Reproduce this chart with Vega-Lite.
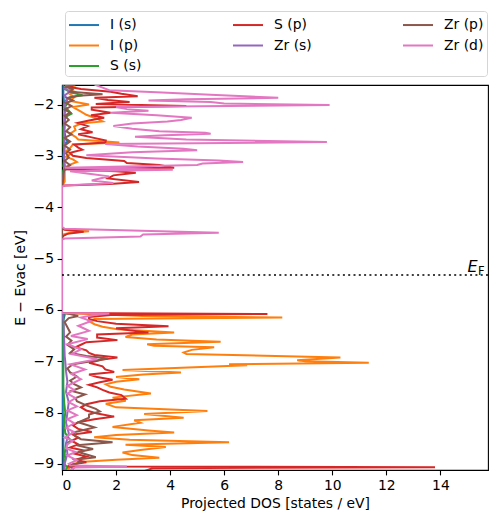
{
"$schema": "https://vega.github.io/schema/vega-lite/v6.json",
"width": 426, "height": 385,
"padding": {"left": 13, "top": 10, "right": 5, "bottom": 5},
"config": {
 "font": "DejaVu Sans",
 "view": {"stroke": "black", "strokeWidth": 1.1},
 "axis": {"labelFont": "DejaVu Sans", "titleFont": "DejaVu Sans", "labelFontSize": 13.9, "titleFontSize": 13.9, "titleFontWeight": "normal", "labelColor": "black", "titleColor": "black", "tickColor": "black", "domainColor": "black", "tickSize": 4.9, "tickWidth": 1.1, "domainWidth": 1.1, "grid": false, "labelPadding": 3.5, "zindex": 1},
 "legend": {"orient": "none", "direction": "horizontal", "legendX": 3, "legendY": -74, "columns": 3, "gridAlign": "each", "columnPadding": 87, "rowPadding": 2.5, "symbolType": "M-1,0H2", "symbolSize": 400, "symbolStrokeWidth": 2, "labelFont": "DejaVu Sans", "labelFontSize": 13.9, "labelOffset": 20, "labelColor": "black", "strokeColor": "#d5d5d5", "cornerRadius": 3, "padding": 3, "fillColor": "white"}
},
"datasets": {"pdos": [
{"s":"I (s)","E":-1.55,"d":0.05},{"s":"I (s)","E":-1.8,"d":0.05},{"s":"I (s)","E":-2.0,"d":0.08},{"s":"I (s)","E":-2.3,"d":0.1},{"s":"I (s)","E":-2.5,"d":0.08},{"s":"I (s)","E":-2.68,"d":0.15},{"s":"I (s)","E":-2.72,"d":0.22},{"s":"I (s)","E":-2.76,"d":0.1},{"s":"I (s)","E":-3.0,"d":0.05},{"s":"I (s)","E":-3.22,"d":0.1},{"s":"I (s)","E":-3.26,"d":0.15},{"s":"I (s)","E":-3.3,"d":0.05},{"s":"I (s)","E":-3.6,"d":0},{"s":"I (s)","E":-6.06,"d":0},{"s":"I (s)","E":-6.1,"d":0.1},{"s":"I (s)","E":-6.2,"d":0.05},{"s":"I (s)","E":-7.0,"d":0.03},{"s":"I (s)","E":-8.0,"d":0.03},{"s":"I (s)","E":-8.5,"d":0.05},{"s":"I (s)","E":-9.15,"d":0.05},

{"s":"I (p)","E":-1.55,"d":0.3},{"s":"I (p)","E":-1.62,"d":0.2},{"s":"I (p)","E":-1.66,"d":0.45},{"s":"I (p)","E":-1.71,"d":0.3},{"s":"I (p)","E":-1.76,"d":0.5},{"s":"I (p)","E":-1.8,"d":0.3},{"s":"I (p)","E":-1.86,"d":0.45},{"s":"I (p)","E":-1.93,"d":0.3},{"s":"I (p)","E":-2.0,"d":1.0},{"s":"I (p)","E":-2.05,"d":0.4},{"s":"I (p)","E":-2.12,"d":0.64},{"s":"I (p)","E":-2.2,"d":0.9},{"s":"I (p)","E":-2.28,"d":1.3},{"s":"I (p)","E":-2.33,"d":1.5},{"s":"I (p)","E":-2.37,"d":0.7},{"s":"I (p)","E":-2.43,"d":0.45},{"s":"I (p)","E":-2.5,"d":0.5},{"s":"I (p)","E":-2.57,"d":0.3},{"s":"I (p)","E":-2.63,"d":0.5},{"s":"I (p)","E":-2.68,"d":0.6},{"s":"I (p)","E":-2.74,"d":2.12},{"s":"I (p)","E":-2.78,"d":0.4},{"s":"I (p)","E":-2.85,"d":0.3},{"s":"I (p)","E":-2.91,"d":0.15},{"s":"I (p)","E":-2.96,"d":0.33},{"s":"I (p)","E":-3.02,"d":0.15},{"s":"I (p)","E":-3.07,"d":0.4},{"s":"I (p)","E":-3.12,"d":0.55},{"s":"I (p)","E":-3.17,"d":0.3},{"s":"I (p)","E":-3.22,"d":0.12},{"s":"I (p)","E":-3.28,"d":0.1},{"s":"I (p)","E":-3.4,"d":0.1},{"s":"I (p)","E":-3.5,"d":0.1},{"s":"I (p)","E":-3.6,"d":0},{"s":"I (p)","E":-4.42,"d":0},{"s":"I (p)","E":-4.44,"d":0.2},{"s":"I (p)","E":-4.47,"d":1.0},{"s":"I (p)","E":-4.5,"d":0.3},{"s":"I (p)","E":-4.54,"d":0},{"s":"I (p)","E":-6.06,"d":0},{"s":"I (p)","E":-6.08,"d":1.0},{"s":"I (p)","E":-6.12,"d":3.0},{"s":"I (p)","E":-6.15,"d":8.15},{"s":"I (p)","E":-6.18,"d":1.2},{"s":"I (p)","E":-6.22,"d":1.0},{"s":"I (p)","E":-6.28,"d":1.2},{"s":"I (p)","E":-6.33,"d":1.5},{"s":"I (p)","E":-6.38,"d":2.05},{"s":"I (p)","E":-6.44,"d":4.15},{"s":"I (p)","E":-6.48,"d":2.6},{"s":"I (p)","E":-6.53,"d":2.35},{"s":"I (p)","E":-6.58,"d":3.5},{"s":"I (p)","E":-6.62,"d":5.87},{"s":"I (p)","E":-6.67,"d":3.15},{"s":"I (p)","E":-6.7,"d":3.4},{"s":"I (p)","E":-6.73,"d":5.63},{"s":"I (p)","E":-6.78,"d":4.8},{"s":"I (p)","E":-6.83,"d":4.5},{"s":"I (p)","E":-6.86,"d":4.6},{"s":"I (p)","E":-6.93,"d":10.3},{"s":"I (p)","E":-6.98,"d":8.7},{"s":"I (p)","E":-7.0,"d":9.0},{"s":"I (p)","E":-7.03,"d":11.35},{"s":"I (p)","E":-7.06,"d":6.18},{"s":"I (p)","E":-7.08,"d":6.85},{"s":"I (p)","E":-7.17,"d":2.24},{"s":"I (p)","E":-7.22,"d":4.4},{"s":"I (p)","E":-7.26,"d":3.0},{"s":"I (p)","E":-7.31,"d":2.0},{"s":"I (p)","E":-7.35,"d":2.86},{"s":"I (p)","E":-7.4,"d":2.0},{"s":"I (p)","E":-7.45,"d":1.62},{"s":"I (p)","E":-7.5,"d":1.8},{"s":"I (p)","E":-7.55,"d":2.3},{"s":"I (p)","E":-7.63,"d":3.29},{"s":"I (p)","E":-7.71,"d":1.87},{"s":"I (p)","E":-7.77,"d":2.36},{"s":"I (p)","E":-7.83,"d":1.62},{"s":"I (p)","E":-7.9,"d":2.0},{"s":"I (p)","E":-7.97,"d":5.38},{"s":"I (p)","E":-8.03,"d":3.04},{"s":"I (p)","E":-8.1,"d":4.5},{"s":"I (p)","E":-8.15,"d":2.67},{"s":"I (p)","E":-8.2,"d":2.9},{"s":"I (p)","E":-8.28,"d":1.87},{"s":"I (p)","E":-8.35,"d":3.2},{"s":"I (p)","E":-8.39,"d":4.15},{"s":"I (p)","E":-8.44,"d":2.0},{"s":"I (p)","E":-8.48,"d":1.19},{"s":"I (p)","E":-8.53,"d":2.5},{"s":"I (p)","E":-8.58,"d":6.18},{"s":"I (p)","E":-8.63,"d":2.35},{"s":"I (p)","E":-8.67,"d":3.84},{"s":"I (p)","E":-8.73,"d":2.9},{"s":"I (p)","E":-8.78,"d":2.24},{"s":"I (p)","E":-8.83,"d":2.6},{"s":"I (p)","E":-8.88,"d":3.6},{"s":"I (p)","E":-8.92,"d":2.0},{"s":"I (p)","E":-8.96,"d":0.82},{"s":"I (p)","E":-9.0,"d":0.4},{"s":"I (p)","E":-9.05,"d":0.3},{"s":"I (p)","E":-9.1,"d":0.25},{"s":"I (p)","E":-9.15,"d":0.2},

{"s":"S (s)","E":-1.55,"d":0.1},{"s":"S (s)","E":-1.62,"d":0.15},{"s":"S (s)","E":-1.7,"d":0.1},{"s":"S (s)","E":-1.76,"d":0.3},{"s":"S (s)","E":-1.82,"d":0.76},{"s":"S (s)","E":-1.86,"d":0.3},{"s":"S (s)","E":-1.92,"d":0.15},{"s":"S (s)","E":-1.98,"d":0.2},{"s":"S (s)","E":-2.05,"d":0.1},{"s":"S (s)","E":-2.12,"d":0.25},{"s":"S (s)","E":-2.18,"d":0.35},{"s":"S (s)","E":-2.22,"d":0.2},{"s":"S (s)","E":-2.28,"d":0.1},{"s":"S (s)","E":-2.45,"d":0.05},{"s":"S (s)","E":-2.7,"d":0.05},{"s":"S (s)","E":-3.05,"d":0.08},{"s":"S (s)","E":-3.2,"d":0.05},{"s":"S (s)","E":-3.24,"d":0.12},{"s":"S (s)","E":-3.28,"d":0.05},{"s":"S (s)","E":-3.6,"d":0},{"s":"S (s)","E":-6.06,"d":0},{"s":"S (s)","E":-6.1,"d":0.05},{"s":"S (s)","E":-7.5,"d":0.05},{"s":"S (s)","E":-7.8,"d":0.08},{"s":"S (s)","E":-8.0,"d":0.12},{"s":"S (s)","E":-8.2,"d":0.08},{"s":"S (s)","E":-8.4,"d":0.12},{"s":"S (s)","E":-8.5,"d":0.25},{"s":"S (s)","E":-8.55,"d":0.35},{"s":"S (s)","E":-8.6,"d":0.15},{"s":"S (s)","E":-8.8,"d":0.1},{"s":"S (s)","E":-8.9,"d":0.12},{"s":"S (s)","E":-9.0,"d":0.08},{"s":"S (s)","E":-9.07,"d":0.2},{"s":"S (s)","E":-9.15,"d":0.1},

{"s":"S (p)","E":-1.55,"d":0.3},{"s":"S (p)","E":-1.62,"d":0.45},{"s":"S (p)","E":-1.66,"d":0.3},{"s":"S (p)","E":-1.7,"d":0.7},{"s":"S (p)","E":-1.75,"d":1.8},{"s":"S (p)","E":-1.79,"d":2.2},{"s":"S (p)","E":-1.84,"d":2.8},{"s":"S (p)","E":-1.87,"d":1.2},{"s":"S (p)","E":-1.91,"d":1.7},{"s":"S (p)","E":-1.95,"d":2.5},{"s":"S (p)","E":-1.99,"d":1.25},{"s":"S (p)","E":-2.03,"d":4.6},{"s":"S (p)","E":-2.06,"d":1.1},{"s":"S (p)","E":-2.1,"d":1.1},{"s":"S (p)","E":-2.16,"d":1.8},{"s":"S (p)","E":-2.21,"d":1.07},{"s":"S (p)","E":-2.26,"d":1.56},{"s":"S (p)","E":-2.31,"d":1.0},{"s":"S (p)","E":-2.36,"d":0.58},{"s":"S (p)","E":-2.42,"d":0.95},{"s":"S (p)","E":-2.48,"d":0.7},{"s":"S (p)","E":-2.54,"d":1.13},{"s":"S (p)","E":-2.58,"d":0.6},{"s":"S (p)","E":-2.64,"d":1.1},{"s":"S (p)","E":-2.7,"d":1.62},{"s":"S (p)","E":-2.74,"d":1.6},{"s":"S (p)","E":-2.78,"d":0.45},{"s":"S (p)","E":-2.84,"d":0.6},{"s":"S (p)","E":-2.88,"d":0.75},{"s":"S (p)","E":-2.94,"d":0.3},{"s":"S (p)","E":-3.0,"d":0.4},{"s":"S (p)","E":-3.04,"d":0.9},{"s":"S (p)","E":-3.1,"d":2.3},{"s":"S (p)","E":-3.14,"d":2.4},{"s":"S (p)","E":-3.18,"d":3.6},{"s":"S (p)","E":-3.23,"d":4.15},{"s":"S (p)","E":-3.26,"d":0.1},{"s":"S (p)","E":-3.3,"d":2.0},{"s":"S (p)","E":-3.33,"d":2.73},{"s":"S (p)","E":-3.38,"d":1.9},{"s":"S (p)","E":-3.44,"d":1.7},{"s":"S (p)","E":-3.51,"d":2.85},{"s":"S (p)","E":-3.55,"d":1.77},{"s":"S (p)","E":-3.58,"d":0.1},{"s":"S (p)","E":-3.6,"d":0},{"s":"S (p)","E":-4.42,"d":0},{"s":"S (p)","E":-4.44,"d":0.1},{"s":"S (p)","E":-4.48,"d":0.8},{"s":"S (p)","E":-4.52,"d":0.2},{"s":"S (p)","E":-4.56,"d":0.05},{"s":"S (p)","E":-4.6,"d":0},{"s":"S (p)","E":-6.06,"d":0},{"s":"S (p)","E":-6.08,"d":7.6},{"s":"S (p)","E":-6.1,"d":1.8},{"s":"S (p)","E":-6.14,"d":1.0},{"s":"S (p)","E":-6.18,"d":1.0},{"s":"S (p)","E":-6.22,"d":1.3},{"s":"S (p)","E":-6.27,"d":2.0},{"s":"S (p)","E":-6.32,"d":3.94},{"s":"S (p)","E":-6.36,"d":2.0},{"s":"S (p)","E":-6.4,"d":2.5},{"s":"S (p)","E":-6.44,"d":3.2},{"s":"S (p)","E":-6.48,"d":1.3},{"s":"S (p)","E":-6.54,"d":1.3},{"s":"S (p)","E":-6.59,"d":2.05},{"s":"S (p)","E":-6.63,"d":0.9},{"s":"S (p)","E":-6.68,"d":0.7},{"s":"S (p)","E":-6.73,"d":0.5},{"s":"S (p)","E":-6.79,"d":0.9},{"s":"S (p)","E":-6.84,"d":1.0},{"s":"S (p)","E":-6.88,"d":1.2},{"s":"S (p)","E":-6.93,"d":2.05},{"s":"S (p)","E":-6.97,"d":1.5},{"s":"S (p)","E":-7.03,"d":1.0},{"s":"S (p)","E":-7.1,"d":1.5},{"s":"S (p)","E":-7.16,"d":1.6},{"s":"S (p)","E":-7.21,"d":1.93},{"s":"S (p)","E":-7.26,"d":1.0},{"s":"S (p)","E":-7.31,"d":1.3},{"s":"S (p)","E":-7.36,"d":1.87},{"s":"S (p)","E":-7.41,"d":1.4},{"s":"S (p)","E":-7.46,"d":1.0},{"s":"S (p)","E":-7.51,"d":1.3},{"s":"S (p)","E":-7.56,"d":1.5},{"s":"S (p)","E":-7.61,"d":1.75},{"s":"S (p)","E":-7.66,"d":2.2},{"s":"S (p)","E":-7.73,"d":2.36},{"s":"S (p)","E":-7.78,"d":1.4},{"s":"S (p)","E":-7.84,"d":0.9},{"s":"S (p)","E":-7.9,"d":0.7},{"s":"S (p)","E":-7.96,"d":0.9},{"s":"S (p)","E":-8.02,"d":1.3},{"s":"S (p)","E":-8.08,"d":1.93},{"s":"S (p)","E":-8.13,"d":1.2},{"s":"S (p)","E":-8.19,"d":0.6},{"s":"S (p)","E":-8.25,"d":0.4},{"s":"S (p)","E":-8.32,"d":0.6},{"s":"S (p)","E":-8.38,"d":1.1},{"s":"S (p)","E":-8.43,"d":0.4},{"s":"S (p)","E":-8.49,"d":0.6},{"s":"S (p)","E":-8.55,"d":0.35},{"s":"S (p)","E":-8.62,"d":0.6},{"s":"S (p)","E":-8.68,"d":0.3},{"s":"S (p)","E":-8.74,"d":0.8},{"s":"S (p)","E":-8.8,"d":0.45},{"s":"S (p)","E":-8.86,"d":0.9},{"s":"S (p)","E":-8.92,"d":0.5},{"s":"S (p)","E":-8.97,"d":0.9},{"s":"S (p)","E":-9.01,"d":0.4},{"s":"S (p)","E":-9.05,"d":0.2},{"s":"S (p)","E":-9.065,"d":13.8},{"s":"S (p)","E":-9.085,"d":3.35},{"s":"S (p)","E":-9.15,"d":3.0},

{"s":"Zr (s)","E":-1.55,"d":0.2},{"s":"Zr (s)","E":-1.62,"d":0.25},{"s":"Zr (s)","E":-1.68,"d":0.1},{"s":"Zr (s)","E":-1.75,"d":0.3},{"s":"Zr (s)","E":-1.82,"d":0.1},{"s":"Zr (s)","E":-1.9,"d":0.2},{"s":"Zr (s)","E":-2.0,"d":0.1},{"s":"Zr (s)","E":-2.1,"d":0.15},{"s":"Zr (s)","E":-2.2,"d":0.08},{"s":"Zr (s)","E":-2.4,"d":0.1},{"s":"Zr (s)","E":-2.6,"d":0.08},{"s":"Zr (s)","E":-2.8,"d":0.1},{"s":"Zr (s)","E":-3.0,"d":0.08},{"s":"Zr (s)","E":-3.2,"d":0.1},{"s":"Zr (s)","E":-3.4,"d":0.05},{"s":"Zr (s)","E":-3.6,"d":0},{"s":"Zr (s)","E":-6.06,"d":0},{"s":"Zr (s)","E":-6.2,"d":0.05},{"s":"Zr (s)","E":-6.6,"d":0.08},{"s":"Zr (s)","E":-6.9,"d":0.1},{"s":"Zr (s)","E":-7.0,"d":0.12},{"s":"Zr (s)","E":-7.2,"d":0.15},{"s":"Zr (s)","E":-7.4,"d":0.2},{"s":"Zr (s)","E":-7.6,"d":0.15},{"s":"Zr (s)","E":-7.8,"d":0.25},{"s":"Zr (s)","E":-8.0,"d":0.2},{"s":"Zr (s)","E":-8.2,"d":0.15},{"s":"Zr (s)","E":-8.4,"d":0.25},{"s":"Zr (s)","E":-8.6,"d":0.15},{"s":"Zr (s)","E":-8.8,"d":0.2},{"s":"Zr (s)","E":-9.0,"d":0.1},{"s":"Zr (s)","E":-9.15,"d":0.1},

{"s":"Zr (p)","E":-1.55,"d":0.3},{"s":"Zr (p)","E":-1.62,"d":0.35},{"s":"Zr (p)","E":-1.66,"d":0.15},{"s":"Zr (p)","E":-1.7,"d":0.4},{"s":"Zr (p)","E":-1.75,"d":0.3},{"s":"Zr (p)","E":-1.8,"d":1.5},{"s":"Zr (p)","E":-1.83,"d":0.6},{"s":"Zr (p)","E":-1.87,"d":0.2},{"s":"Zr (p)","E":-1.92,"d":0.4},{"s":"Zr (p)","E":-1.97,"d":0.15},{"s":"Zr (p)","E":-2.03,"d":0.35},{"s":"Zr (p)","E":-2.1,"d":0.1},{"s":"Zr (p)","E":-2.16,"d":0.3},{"s":"Zr (p)","E":-2.22,"d":0.1},{"s":"Zr (p)","E":-2.3,"d":0.25},{"s":"Zr (p)","E":-2.37,"d":0.1},{"s":"Zr (p)","E":-2.44,"d":0.3},{"s":"Zr (p)","E":-2.52,"d":0.15},{"s":"Zr (p)","E":-2.58,"d":0.35},{"s":"Zr (p)","E":-2.65,"d":0.1},{"s":"Zr (p)","E":-2.72,"d":0.3},{"s":"Zr (p)","E":-2.8,"d":0.1},{"s":"Zr (p)","E":-2.88,"d":0.3},{"s":"Zr (p)","E":-2.95,"d":0.15},{"s":"Zr (p)","E":-3.03,"d":0.25},{"s":"Zr (p)","E":-3.1,"d":0.1},{"s":"Zr (p)","E":-3.18,"d":0.3},{"s":"Zr (p)","E":-3.25,"d":0.1},{"s":"Zr (p)","E":-3.35,"d":0.05},{"s":"Zr (p)","E":-3.45,"d":0.05},{"s":"Zr (p)","E":-3.6,"d":0},{"s":"Zr (p)","E":-6.06,"d":0},{"s":"Zr (p)","E":-6.08,"d":0.3},{"s":"Zr (p)","E":-6.12,"d":0.6},{"s":"Zr (p)","E":-6.16,"d":0.25},{"s":"Zr (p)","E":-6.24,"d":0.1},{"s":"Zr (p)","E":-6.34,"d":0.2},{"s":"Zr (p)","E":-6.44,"d":0.3},{"s":"Zr (p)","E":-6.52,"d":0.15},{"s":"Zr (p)","E":-6.6,"d":0.35},{"s":"Zr (p)","E":-6.68,"d":0.2},{"s":"Zr (p)","E":-6.77,"d":0.45},{"s":"Zr (p)","E":-6.84,"d":0.3},{"s":"Zr (p)","E":-6.9,"d":0.9},{"s":"Zr (p)","E":-6.95,"d":1.7},{"s":"Zr (p)","E":-6.99,"d":1.2},{"s":"Zr (p)","E":-7.06,"d":0.4},{"s":"Zr (p)","E":-7.14,"d":0.2},{"s":"Zr (p)","E":-7.22,"d":0.3},{"s":"Zr (p)","E":-7.3,"d":0.55},{"s":"Zr (p)","E":-7.38,"d":0.3},{"s":"Zr (p)","E":-7.45,"d":0.45},{"s":"Zr (p)","E":-7.51,"d":0.7},{"s":"Zr (p)","E":-7.58,"d":0.35},{"s":"Zr (p)","E":-7.65,"d":0.85},{"s":"Zr (p)","E":-7.72,"d":0.5},{"s":"Zr (p)","E":-7.78,"d":0.55},{"s":"Zr (p)","E":-7.86,"d":0.9},{"s":"Zr (p)","E":-7.93,"d":1.25},{"s":"Zr (p)","E":-7.98,"d":1.4},{"s":"Zr (p)","E":-8.04,"d":1.0},{"s":"Zr (p)","E":-8.1,"d":1.0},{"s":"Zr (p)","E":-8.19,"d":0.6},{"s":"Zr (p)","E":-8.29,"d":1.2},{"s":"Zr (p)","E":-8.34,"d":0.8},{"s":"Zr (p)","E":-8.39,"d":0.4},{"s":"Zr (p)","E":-8.46,"d":0.5},{"s":"Zr (p)","E":-8.52,"d":0.7},{"s":"Zr (p)","E":-8.58,"d":1.87},{"s":"Zr (p)","E":-8.64,"d":0.55},{"s":"Zr (p)","E":-8.71,"d":1.15},{"s":"Zr (p)","E":-8.77,"d":0.6},{"s":"Zr (p)","E":-8.87,"d":1.25},{"s":"Zr (p)","E":-8.92,"d":0.5},{"s":"Zr (p)","E":-8.97,"d":0.7},{"s":"Zr (p)","E":-9.04,"d":0.3},{"s":"Zr (p)","E":-9.1,"d":0.4},{"s":"Zr (p)","E":-9.15,"d":0.3},

{"s":"Zr (d)","E":-1.55,"d":1.0},{"s":"Zr (d)","E":-1.62,"d":1.25},{"s":"Zr (d)","E":-1.67,"d":1.5},{"s":"Zr (d)","E":-1.72,"d":1.75},{"s":"Zr (d)","E":-1.76,"d":3.5},{"s":"Zr (d)","E":-1.81,"d":5.5},{"s":"Zr (d)","E":-1.87,"d":8.0},{"s":"Zr (d)","E":-1.9,"d":4.6},{"s":"Zr (d)","E":-1.92,"d":3.2},{"s":"Zr (d)","E":-1.95,"d":5.5},{"s":"Zr (d)","E":-1.98,"d":6.0},{"s":"Zr (d)","E":-2.01,"d":9.9},{"s":"Zr (d)","E":-2.05,"d":2.0},{"s":"Zr (d)","E":-2.09,"d":2.4},{"s":"Zr (d)","E":-2.12,"d":3.2},{"s":"Zr (d)","E":-2.16,"d":1.8},{"s":"Zr (d)","E":-2.21,"d":3.5},{"s":"Zr (d)","E":-2.26,"d":4.8},{"s":"Zr (d)","E":-2.3,"d":4.4},{"s":"Zr (d)","E":-2.33,"d":3.9},{"s":"Zr (d)","E":-2.37,"d":2.6},{"s":"Zr (d)","E":-2.42,"d":1.9},{"s":"Zr (d)","E":-2.47,"d":2.6},{"s":"Zr (d)","E":-2.52,"d":3.6},{"s":"Zr (d)","E":-2.55,"d":5.3},{"s":"Zr (d)","E":-2.57,"d":5.5},{"s":"Zr (d)","E":-2.6,"d":3.8},{"s":"Zr (d)","E":-2.63,"d":2.7},{"s":"Zr (d)","E":-2.68,"d":4.6},{"s":"Zr (d)","E":-2.73,"d":9.8},{"s":"Zr (d)","E":-2.77,"d":1.6},{"s":"Zr (d)","E":-2.82,"d":2.8},{"s":"Zr (d)","E":-2.86,"d":4.5},{"s":"Zr (d)","E":-2.89,"d":5.0},{"s":"Zr (d)","E":-2.93,"d":2.6},{"s":"Zr (d)","E":-2.99,"d":0.9},{"s":"Zr (d)","E":-3.05,"d":3.5},{"s":"Zr (d)","E":-3.09,"d":5.8},{"s":"Zr (d)","E":-3.12,"d":6.7},{"s":"Zr (d)","E":-3.15,"d":5.2},{"s":"Zr (d)","E":-3.18,"d":5.0},{"s":"Zr (d)","E":-3.23,"d":0.1},{"s":"Zr (d)","E":-3.27,"d":4.1},{"s":"Zr (d)","E":-3.3,"d":0.3},{"s":"Zr (d)","E":-3.35,"d":1.0},{"s":"Zr (d)","E":-3.4,"d":1.75},{"s":"Zr (d)","E":-3.44,"d":1.4},{"s":"Zr (d)","E":-3.48,"d":1.1},{"s":"Zr (d)","E":-3.53,"d":1.9},{"s":"Zr (d)","E":-3.58,"d":0.1},{"s":"Zr (d)","E":-3.6,"d":0},{"s":"Zr (d)","E":-4.38,"d":0},{"s":"Zr (d)","E":-4.42,"d":0.1},{"s":"Zr (d)","E":-4.5,"d":5.8},{"s":"Zr (d)","E":-4.53,"d":3.0},{"s":"Zr (d)","E":-4.57,"d":2.9},{"s":"Zr (d)","E":-4.61,"d":0.1},{"s":"Zr (d)","E":-4.63,"d":0},{"s":"Zr (d)","E":-6.06,"d":0},{"s":"Zr (d)","E":-6.07,"d":1.75},{"s":"Zr (d)","E":-6.1,"d":1.2},{"s":"Zr (d)","E":-6.15,"d":0.7},{"s":"Zr (d)","E":-6.22,"d":1.07},{"s":"Zr (d)","E":-6.31,"d":0.6},{"s":"Zr (d)","E":-6.41,"d":1.0},{"s":"Zr (d)","E":-6.51,"d":0.33},{"s":"Zr (d)","E":-6.57,"d":0.95},{"s":"Zr (d)","E":-6.67,"d":0.2},{"s":"Zr (d)","E":-6.77,"d":0.7},{"s":"Zr (d)","E":-6.86,"d":0.35},{"s":"Zr (d)","E":-6.96,"d":1.3},{"s":"Zr (d)","E":-7.06,"d":0.3},{"s":"Zr (d)","E":-7.16,"d":0.85},{"s":"Zr (d)","E":-7.25,"d":0.35},{"s":"Zr (d)","E":-7.35,"d":0.7},{"s":"Zr (d)","E":-7.48,"d":0.2},{"s":"Zr (d)","E":-7.56,"d":0.45},{"s":"Zr (d)","E":-7.63,"d":0.2},{"s":"Zr (d)","E":-7.72,"d":0.5},{"s":"Zr (d)","E":-7.8,"d":0.25},{"s":"Zr (d)","E":-7.88,"d":0.55},{"s":"Zr (d)","E":-7.96,"d":0.2},{"s":"Zr (d)","E":-8.05,"d":0.55},{"s":"Zr (d)","E":-8.13,"d":0.2},{"s":"Zr (d)","E":-8.21,"d":0.45},{"s":"Zr (d)","E":-8.3,"d":0.15},{"s":"Zr (d)","E":-8.38,"d":0.45},{"s":"Zr (d)","E":-8.49,"d":0.1},{"s":"Zr (d)","E":-8.55,"d":0.4},{"s":"Zr (d)","E":-8.62,"d":0.2},{"s":"Zr (d)","E":-8.7,"d":0.15},{"s":"Zr (d)","E":-8.77,"d":0.5},{"s":"Zr (d)","E":-8.84,"d":0.2},{"s":"Zr (d)","E":-8.93,"d":0.55},{"s":"Zr (d)","E":-9.0,"d":0.25},{"s":"Zr (d)","E":-9.03,"d":0.3},{"s":"Zr (d)","E":-9.05,"d":2.4},{"s":"Zr (d)","E":-9.07,"d":0.5},{"s":"Zr (d)","E":-9.12,"d":0.3},{"s":"Zr (d)","E":-9.15,"d":0.3}
]},
"layer": [
 {"data": {"name": "pdos"},
  "mark": {"type": "line", "strokeWidth": 2, "clip": true},
  "encoding": {
   "x": {"field": "d", "type": "quantitative", "scale": {"domain": [0, 15.76], "nice": false, "zero": false}, "axis": {"values": [0, 2, 4, 6, 8, 10, 12, 14], "title": "Projected DOS [states / eV]", "titlePadding": 4}},
   "y": {"field": "E", "type": "quantitative", "scale": {"domain": [-9.12, -1.62], "nice": false, "zero": false}, "axis": {"values": [-9, -8, -7, -6, -5, -4, -3, -2], "title": "E − Evac [eV]", "titlePadding": 6}},
   "color": {"field": "s", "type": "nominal", "scale": {"domain": ["I (s)", "S (p)", "Zr (p)", "I (p)", "Zr (s)", "Zr (d)", "S (s)"], "range": ["#1f77b4", "#d62728", "#8c564b", "#ff7f0e", "#9467bd", "#e377c2", "#2ca02c"]}, "legend": {"title": null}},
   "order": {"field": "E", "sort": "descending"}
  }},
 {"data": {"values": [{}]},
  "mark": {"type": "rule", "strokeDash": [2, 3.3], "strokeWidth": 1.5, "color": "black"},
  "encoding": {"y": {"datum": -5.32}}},
 {"data": {"values": [{}]},
  "mark": {"type": "text", "text": "E", "font": "DejaVu Sans", "fontStyle": "italic", "fontSize": 16, "align": "left", "baseline": "alphabetic", "dy": -3},
  "encoding": {"x": {"datum": 15.0}, "y": {"datum": -5.32}}},
 {"data": {"values": [{}]},
  "mark": {"type": "text", "text": "F", "font": "DejaVu Sans", "fontSize": 11.5, "align": "left", "baseline": "alphabetic", "dx": 10.5, "dy": 0},
  "encoding": {"x": {"datum": 15.0}, "y": {"datum": -5.32}}}
]
}
